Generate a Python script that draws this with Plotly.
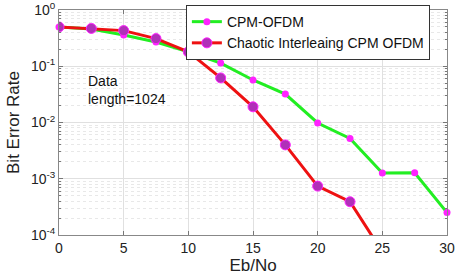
import plotly.graph_objects as go

ebno = [0, 2.5, 5, 7.5, 10, 12.5, 15, 17.5, 20, 22.5, 25, 27.5, 30]
ber_cpm_ofdm = [0.5, 0.46, 0.36, 0.27, 0.18, 0.114, 0.057, 0.032, 0.0098, 0.0052, 0.00126, 0.00128, 0.00025]
ber_chaotic = [0.5, 0.47, 0.43, 0.31, 0.18, 0.062, 0.019, 0.004, 0.00074, 0.00039, 0.00005, None, None]

ytick_vals = [1e-4, 1e-3, 1e-2, 1e-1, 1]
ytick_text = ["10<sup>-4</sup>", "10<sup>-3</sup>", "10<sup>-2</sup>", "10<sup>-1</sup>", "10<sup>0</sup>"]
xtick_vals = [0, 5, 10, 15, 20, 25, 30]

font = "Liberation Sans, Arial, sans-serif"

fig = go.Figure()
fig.add_trace(go.Scatter(
    x=ebno, y=ber_cpm_ofdm, name="CPM-OFDM", mode="lines+markers",
    line=dict(color="#22ee22", width=3),
    marker=dict(color="#ff22ff", size=7, line=dict(width=0)),
    cliponaxis=False,
))
fig.add_trace(go.Scatter(
    x=ebno, y=ber_chaotic, name="Chaotic Interleaing CPM OFDM", mode="lines+markers",
    line=dict(color="#ee1111", width=3),
    marker=dict(color="#b030b8", size=10, line=dict(color="#ff22ff", width=1)),
    cliponaxis=True,
))

fig.add_annotation(
    x=0.07, y=0.73, xref="paper", yref="paper", xanchor="left", yanchor="top",
    text="Data<br>length=1024", showarrow=False, align="left",
    font=dict(family=font, size=14, color="#111111"),
)

fig.update_layout(
    width=455, height=280,
    margin=dict(l=59, r=8, t=10, b=45, autoexpand=False),
    paper_bgcolor="white", plot_bgcolor="white",
    font=dict(family=font, size=13, color="#222222"),
    showlegend=True,
    legend=dict(
        x=0.327, y=1.022, xanchor="left", yanchor="top",
        bgcolor="white", bordercolor="#333333", borderwidth=1,
        font=dict(family=font, size=14, color="#111111"),
        tracegroupgap=0,
    ),
)
fig.update_xaxes(
    range=[0, 30], tickmode="array", tickvals=xtick_vals, automargin=False,
    ticklabeloverflow="allow",
    showline=True, linecolor="#888888", linewidth=1, mirror="ticks",
    ticks="inside", ticklen=4, tickcolor="#777777",
    showgrid=True, gridcolor="#e0e0e0", gridwidth=1,
    zeroline=False,
    title=dict(text="Eb/No", font=dict(family=font, size=17), standoff=1),
    tickfont=dict(family=font, size=14),
)
fig.update_yaxes(
    type="log", range=[-4, 0], tickmode="array", tickvals=ytick_vals, ticktext=ytick_text, automargin=False,
    ticklabeloverflow="allow",
    showline=True, linecolor="#888888", linewidth=1, mirror="ticks",
    ticks="inside", ticklen=4, tickcolor="#777777",
    showgrid=True, gridcolor="#e0e0e0", gridwidth=1,
    minor=dict(tickmode="linear", dtick="D1", showgrid=True, gridcolor="#e8e8e8", griddash="dot",
               ticks="inside", ticklen=2, tickcolor="#777777"),
    zeroline=False,
    title=dict(text="Bit Error Rate", font=dict(family=font, size=17), standoff=6),
    tickfont=dict(family=font, size=14),
)

# remove the browser's default 8px body margin so the 455x280 figure fills the window
fig.write_html("out.html", config={"displayModeBar": False},
               post_script="document.body.style.margin='0px';")
